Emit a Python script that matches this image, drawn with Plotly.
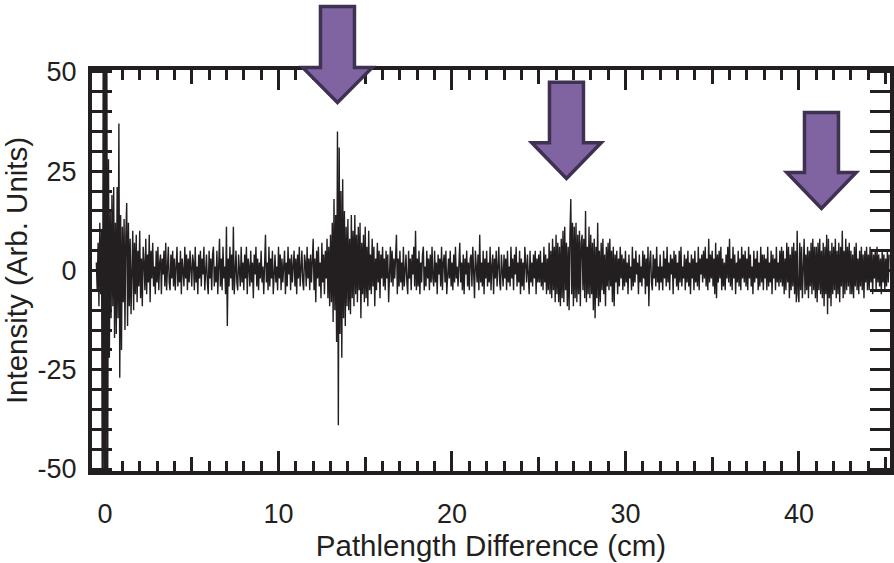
import numpy as np
import plotly.graph_objects as go

# ---------------- data ----------------
x_start = -0.5          # cm, first sample
x_step = 0.05           # cm, sample spacing
intensity_rows = [
    [2, -5, 7, -9, 12, -6, 10, -70, 70, -70],                                             # -0.5 .. -0.05
    [70, -70, 70, -60, 28, -22, 15, -12, 19, -9, 21, -17, 12, -16, 21, -12, 37, -27, 14, -20],  # 0
    [11, -8, 13, -15, 9, 17, -14, 12, -9, 8, -11, 6, 10, -10, 7, -6, 9, -8, 5, -4],       # 1
    [10, -7, 3, -9, 6, 2, -5, 8, -6, 4, -3, 9, -8, 5, -2, 7, -4, 1, -6, 5],               # 2
    [-3, 6, -5, 2, 4, -6, 3, -1, 5, -4, 7, -5, 2, 6, -3, -5, 4, -2, 5, -4],               # 3
    [3, -5, 1, 6, -4, 2, -3, 5, -6, 3, 0, -4, 6, -2, 4, -5, 3, -3, 5, -1],                # 4
    [-4, 4, 2, -5, 6, -3, 1, -6, 4, -2, 5, -4, 3, -1, 6, -5, 2, 4, -3, -6],               # 5
    [5, -2, 3, -5, 4, 6, -4, 1, -3, 5, -6, 2, 8, -4, 3, -5, 6, -2, 1, -6],                # 6
    [11, -14, 3, -4, 6, -2, 4, -5, 11, -6, 2, 5, -3, -5, 4, 1, -4, 6, -3, 2],             # 7
    [-5, 4, -2, 6, -6, 3, 1, -4, 5, -3, 2, -7, 4, -1, 6, -4, 3, -5, 2, -2],               # 8
    [5, -3, 1, -6, 4, 9, -3, 2, -5, 6, -4, 3, -2, 5, -6, 2, 4, -3, 1, -5],                # 9
    [6, -2, 4, -5, 3, -3, 1, 5, -6, 2, -4, 6, -1, 3, -5, 4, -3, 2, 5, -4],                # 10
    [3, -6, 4, -2, 6, -4, 1, 5, -3, -5, 4, 2, -4, 6, -2, 3, -5, 4, -3, 1],                # 11
    [8, -5, 3, -8, 5, -2, 6, -4, 2, -7, 7, -3, 4, -6, 5, -2, 8, -7, 6, -9],               # 12
    [9, -8, 12, -13, 18, -10, 14, -18, 35, -39, 31, -16, 20, -22, 23, -12, 15, -14, 11, -9],  # 13
    [13, -10, 8, -11, 14, -7, 10, -9, 14, -6, 9, -8, 11, -5, 12, -12, 7, -6, 9, -8],      # 14
    [11, -7, 6, -9, 10, -5, 4, -6, 8, -4, 6, -9, 3, -5, 7, -3, 5, -7, 4, -2],             # 15
    [6, -4, 3, -5, 5, -2, 4, -8, 2, 6, -3, 5, -4, 3, -2, 6, 9, -6, 3, -4],                # 16
    [5, -3, 2, -5, 6, -4, 1, 4, -3, -6, 5, -2, 3, -5, 4, -1, 6, -4, 10, -5],              # 17
    [3, -4, 5, -6, 2, -3, 4, 6, -5, 1, -4, 5, -2, 3, -5, 4, -3, 6, -2, -4],               # 18
    [5, -3, 2, -6, 4, -1, 3, -4, 6, -5, 2, 4, -3, 5, -6, 1, 3, -2, 5, -4],                # 19
    [2, -5, 4, -3, 6, -2, 1, -4, 5, 7, -3, 2, -5, 4, -6, 3, -1, 5, -4, 2],                # 20
    [-5, 3, 4, -4, 6, -2, -7, 5, 2, -3, 4, -5, 9, -3, 2, -4, 5, -6, 3, -2],               # 21
    [5, -4, 2, -3, 6, -5, 1, 4, -6, 3, -2, 5, -4, 2, 6, -3, -5, 4, 1, -4],                # 22
    [4, -2, 3, -5, 5, -3, 1, -4, 6, -2, 3, -5, 4, -1, 6, -4, 2, -3, 5, -6],               # 23
    [3, -4, 2, -5, 6, 1, -3, 4, -2, -6, 5, -3, 2, -4, 4, -2, 5, -6, 3, -3],               # 24
    [4, -3, 5, -4, 2, -5, 6, -3, 4, -6, 3, -5, 7, -6, 5, -7, 8, -5, 6, -8],               # 25
    [9, -6, 7, -8, 6, -9, 8, -7, 10, -8, 11, -5, 7, -9, 6, -10, 9, 18, -6, 12],           # 26
    [-9, 11, -7, 12, -8, 9, -6, 10, -9, 7, 9, -5, 8, -7, 15, -8, 6, -6, 11, -7],          # 27
    [9, -6, 7, -10, 8, -12, 6, -7, 12, -9, 5, -8, 7, -5, 8, -6, 4, -9, 6, -4],            # 28
    [7, -5, 8, -4, 5, -8, 6, -9, 4, -3, 5, -6, 3, -4, 6, -2, 4, -5, 3, -4],               # 29
    [5, -3, 2, -6, 4, -2, 1, -5, 6, -4, 3, -3, 5, -1, 2, -6, 4, -3, 1, -4],               # 30
    [5, -2, 4, -6, 3, -4, 6, -9, 2, 5, -3, -5, 4, -2, 3, -4, 6, -3, 1, -5],               # 31
    [4, -3, 1, -5, 5, -2, 3, -4, 6, -3, 2, -5, 4, -1, 3, -6, 5, -2, 4, -4],               # 32
    [2, -5, 5, -3, 6, -4, 1, -2, 4, -5, 3, -3, 5, -4, 2, -6, 4, -2, 3, -5],               # 33
    [5, -3, 2, -4, 6, -5, 3, -1, 4, -3, 5, -2, 6, -4, 3, -5, 8, -3, 4, -2],               # 34
    [5, -4, 3, -6, 7, -7, 4, -3, 5, -2, 6, -5, 3, -4, 2, -5, 4, -2, 6, -3],               # 35
    [8, -4, 3, -5, 6, -2, 4, -6, 2, -3, 5, -4, 3, -5, 6, -2, 4, -3, 5, -4],               # 36
    [3, -5, 6, -2, 4, -4, 1, -6, 5, -3, 3, -2, 5, -5, 2, -4, 6, -3, 4, -5],               # 37
    [4, -2, 3, -5, 6, -4, 2, -3, 5, -6, 4, -2, 3, -5, 6, -3, 2, -4, 5, -3],               # 38
    [6, -4, 5, -6, 3, -5, 7, -3, 6, -7, 4, -5, 6, -4, 7, -6, 5, -8, 10, -6],              # 39
    [-8, 7, -5, 6, -7, 5, 8, -6, 4, -5, 6, -7, 5, -4, 7, -6, 8, -5, 6, -7],               # 40
    [6, -8, 7, -5, 8, -6, 5, -7, 7, -9, 6, -6, 9, -11, 8, -7, 5, -9, 7, -6],              # 41
    [6, -5, 8, -7, 5, -6, 7, -8, 6, -4, 10, -7, 5, -6, 8, -5, 6, -4, 7, -6],              # 42
    [5, -6, 4, -7, 6, -4, 7, -5, 3, -6, 5, -4, 6, -5, 4, -7, 5, -3, 6, -5],               # 43
    [4, -5, 6, -3, 5, -6, 4, -2, 5, -5, 6, -3, 4, -4, 3, -6, 5, -3, 4, -5],               # 44
    [3, -4, 5, -3, 4],                                                                    # 45.0 .. 45.2
]

x_tick_vals = [0, 10, 20, 30, 40]
x_tick_text = ["0", "10", "20", "30", "40"]
y_tick_vals = [-50, -25, 0, 25, 50]
y_tick_text = ["-50", "-25", "0", "25", "50"]

x_title = "Pathlength Difference (cm)"
y_title = "Intensity (Arb. Units)"

# arrows: tip x (cm), top of shaft, start of head, tip (intensity units)
arrow_tip_x = [13.4, 26.6, 41.3]
arrow_top_y = [66.5, 47.4, 39.8]
arrow_head_y = [51.1, 32.2, 24.7]
arrow_tip_y = [42.3, 23.2, 15.6]

# ---------------- figure ----------------
intensity = [v for row in intensity_rows for v in row]
pathlength = np.round(x_start + x_step * np.arange(len(intensity)), 3)

X_RANGE = [-0.75, 45.25]
Y_RANGE = [-50.5, 50.5]
INK = "#231F20"
FONT = "Liberation Sans, Arial, Helvetica, sans-serif"

fig = go.Figure()
fig.add_trace(go.Scatter(x=pathlength, y=intensity, mode="lines",
                         line=dict(color=INK, width=1.4), showlegend=False))
# invisible trace for the helper x axis (5 cm ticks)
fig.add_trace(go.Scatter(x=[X_RANGE[0]], y=[0], xaxis="x2", mode="markers",
                         marker=dict(opacity=0), showlegend=False, hoverinfo="skip"))

common = dict(showgrid=False, zeroline=False, color=INK, ticks="inside",
              tickwidth=3, tickcolor=INK, automargin=False)

fig.update_layout(
    width=894, height=563,
    margin=dict(l=92, r=4, t=70, b=92),
    paper_bgcolor="white", plot_bgcolor="white",
    font=dict(family=FONT, color=INK, size=27),
    xaxis=dict(range=X_RANGE, tickvals=x_tick_vals, ticktext=x_tick_text,
               ticklen=20, showline=True, linewidth=4, linecolor=INK,
               mirror="allticks", ticklabelstandoff=16,
               minor=dict(dtick=1, tick0=0, ticklen=10, tickwidth=3,
                          tickcolor=INK, ticks="inside"),
               title=dict(text=x_title, font=dict(size=29.5), standoff=4),
               tickfont=dict(size=27), **common),
    xaxis2=dict(range=X_RANGE, overlaying="x", anchor="y", side="bottom",
                dtick=5, tick0=0, ticklen=14, showticklabels=False,
                showline=False, mirror="allticks", **common),
    yaxis=dict(range=Y_RANGE, tickvals=y_tick_vals, ticktext=y_tick_text,
               ticklen=20, showline=True, linewidth=4, linecolor=INK,
               mirror="allticks", ticklabelstandoff=6,
               minor=dict(dtick=5, tick0=0, ticklen=10, tickwidth=3,
                          tickcolor=INK, ticks="inside"),
               title=dict(text=y_title, font=dict(size=29.5), standoff=3),
               tickfont=dict(size=27), **common),
)


def to_paper(xv, yv):
    xp = (xv - X_RANGE[0]) / (X_RANGE[1] - X_RANGE[0])
    yp = (yv - Y_RANGE[0]) / (Y_RANGE[1] - Y_RANGE[0])
    return xp, yp


SHAFT_HALF = 0.98   # cm
HEAD_HALF = 2.0     # cm
for tx, top, head, tip in zip(arrow_tip_x, arrow_top_y, arrow_head_y, arrow_tip_y):
    pts = [(tx - SHAFT_HALF, top), (tx + SHAFT_HALF, top), (tx + SHAFT_HALF, head),
           (tx + HEAD_HALF, head), (tx, tip), (tx - HEAD_HALF, head),
           (tx - SHAFT_HALF, head)]
    pp = [to_paper(a, b) for a, b in pts]
    path = "M " + " L ".join(f"{a:.5f},{b:.5f}" for a, b in pp) + " Z"
    fig.add_shape(type="path", path=path, xref="paper", yref="paper",
                  fillcolor="#8064A2", line=dict(color="#3F3151", width=3.5),
                  layer="above")

fig.write_html("out.html", config={"displayModeBar": False},
               post_script="document.body.style.margin='0px';"
                           "document.body.style.overflow='hidden';")
